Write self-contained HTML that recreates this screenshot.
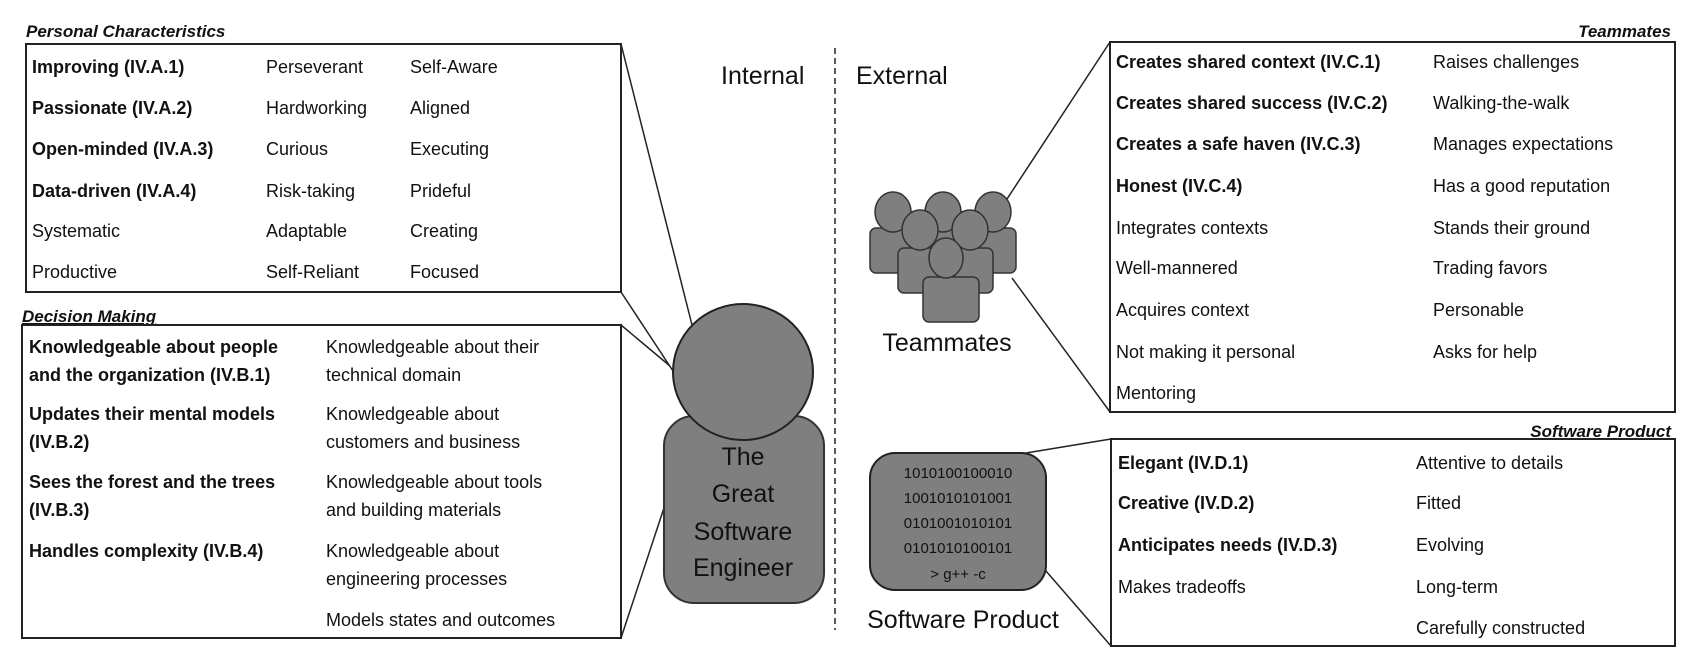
<!DOCTYPE html>
<html><head><meta charset="utf-8"><style>
html,body{margin:0;padding:0;background:#fff;}
svg{display:block;font-family:"Liberation Sans",sans-serif;}
.b{font-weight:bold;}
text{font-size:18px;fill:#111;}
</style></head><body>
<svg width="1688" height="658" viewBox="0 0 1688 658" xmlns="http://www.w3.org/2000/svg">
<!-- titles -->
<text x="26" y="37" font-style="italic" font-weight="bold" style="font-size:17px">Personal Characteristics</text>
<text x="22" y="322" font-style="italic" font-weight="bold" style="font-size:17px" text-decoration="underline">Decision Making</text>
<text x="1671" y="37" text-anchor="end" font-style="italic" font-weight="bold" style="font-size:17px">Teammates</text>
<text x="1671" y="437" text-anchor="end" font-style="italic" font-weight="bold" style="font-size:17px" text-decoration="underline">Software Product</text>

<!-- boxes -->
<rect x="26" y="44" width="595" height="248" fill="none" stroke="#222" stroke-width="2"/>
<rect x="22" y="325" width="599" height="313" fill="none" stroke="#222" stroke-width="2"/>
<rect x="1110" y="42" width="565" height="370" fill="none" stroke="#222" stroke-width="2"/>
<rect x="1111" y="439" width="564" height="207" fill="none" stroke="#222" stroke-width="2"/>

<!-- connectors -->
<g stroke="#222" stroke-width="1.5">
<line x1="621" y1="44" x2="692" y2="325"/>
<line x1="621" y1="292" x2="673" y2="371"/>
<line x1="621" y1="325" x2="670" y2="366"/>
<line x1="621" y1="638" x2="694" y2="417"/>
<line x1="1110" y1="42" x2="1005" y2="202"/>
<line x1="1012" y1="278" x2="1110" y2="412"/>
<line x1="1026" y1="453" x2="1111" y2="439"/>
<line x1="1046" y1="571" x2="1111" y2="646"/>
</g>
<line x1="835" y1="48" x2="835" y2="630" stroke="#222" stroke-width="1.5" stroke-dasharray="6,4"/>
<text x="721" y="84" style="font-size:25px">Internal</text>
<text x="856" y="84" style="font-size:25px">External</text>

<!-- personal characteristics -->
<g>
<text x="32" y="73" class="b">Improving (IV.A.1)</text><text x="266" y="73">Perseverant</text><text x="410" y="73">Self-Aware</text>
<text x="32" y="114" class="b">Passionate (IV.A.2)</text><text x="266" y="114">Hardworking</text><text x="410" y="114">Aligned</text>
<text x="32" y="155" class="b">Open-minded (IV.A.3)</text><text x="266" y="155">Curious</text><text x="410" y="155">Executing</text>
<text x="32" y="197" class="b">Data-driven (IV.A.4)</text><text x="266" y="197">Risk-taking</text><text x="410" y="197">Prideful</text>
<text x="32" y="237">Systematic</text><text x="266" y="237">Adaptable</text><text x="410" y="237">Creating</text>
<text x="32" y="278">Productive</text><text x="266" y="278">Self-Reliant</text><text x="410" y="278">Focused</text>
</g>

<!-- decision making -->
<g>
<text x="29" y="353" class="b">Knowledgeable about people</text><text x="326" y="353">Knowledgeable about their</text>
<text x="29" y="381" class="b">and the organization (IV.B.1)</text><text x="326" y="381">technical domain</text>
<text x="29" y="420" class="b">Updates their mental models</text><text x="326" y="420">Knowledgeable about</text>
<text x="29" y="448" class="b">(IV.B.2)</text><text x="326" y="448">customers and business</text>
<text x="29" y="488" class="b">Sees the forest and the trees</text><text x="326" y="488">Knowledgeable about tools</text>
<text x="29" y="516" class="b">(IV.B.3)</text><text x="326" y="516">and building materials</text>
<text x="29" y="557" class="b">Handles complexity (IV.B.4)</text><text x="326" y="557">Knowledgeable about</text>
<text x="326" y="585">engineering processes</text>
<text x="326" y="626">Models states and outcomes</text>
</g>

<!-- engineer figure -->
<rect x="664" y="416" width="160" height="187" rx="30" fill="#7f7f7f" stroke="#333" stroke-width="2"/>
<ellipse cx="743" cy="372" rx="70" ry="68" fill="#7f7f7f" stroke="#222" stroke-width="2"/>
<line x1="692" y1="325" x2="694" y2="417" stroke="none"/>
<g fill="#fff" text-anchor="middle" style="font-size:25px">
<text x="743" y="465" fill="#fff" style="font-size:25px">The</text>
<text x="743" y="502" fill="#fff" style="font-size:25px">Great</text>
<text x="743" y="540" fill="#fff" style="font-size:25px">Software</text>
<text x="743" y="576" fill="#fff" style="font-size:25px">Engineer</text>
</g>

<!-- teammates icon -->
<g fill="#7f7f7f" stroke="#333" stroke-width="1.5">
<rect x="870" y="228" width="45" height="45" rx="6"/>
<rect x="971" y="228" width="45" height="45" rx="6"/>
<rect x="920" y="228" width="46" height="45" rx="6"/>
<ellipse cx="893" cy="212" rx="18" ry="20"/>
<ellipse cx="943" cy="212" rx="18" ry="20"/>
<ellipse cx="993" cy="212" rx="18" ry="20"/>
<rect x="898" y="248" width="95" height="45" rx="6"/>
<ellipse cx="920" cy="230" rx="18" ry="20"/>
<ellipse cx="970" cy="230" rx="18" ry="20"/>
<rect x="923" y="277" width="56" height="45" rx="6"/>
<ellipse cx="946" cy="258" rx="17" ry="20"/>
</g>
<text x="947" y="351" text-anchor="middle" style="font-size:25px">Teammates</text>

<!-- teammates list -->
<g>
<text x="1116" y="68" class="b">Creates shared context (IV.C.1)</text><text x="1433" y="68">Raises challenges</text>
<text x="1116" y="109" class="b">Creates shared success (IV.C.2)</text><text x="1433" y="109">Walking-the-walk</text>
<text x="1116" y="150" class="b">Creates a safe haven (IV.C.3)</text><text x="1433" y="150">Manages expectations</text>
<text x="1116" y="192" class="b">Honest (IV.C.4)</text><text x="1433" y="192">Has a good reputation</text>
<text x="1116" y="234">Integrates contexts</text><text x="1433" y="234">Stands their ground</text>
<text x="1116" y="274">Well-mannered</text><text x="1433" y="274">Trading favors</text>
<text x="1116" y="316">Acquires context</text><text x="1433" y="316">Personable</text>
<text x="1116" y="358">Not making it personal</text><text x="1433" y="358">Asks for help</text>
<text x="1116" y="399">Mentoring</text>
</g>

<!-- software product icon -->
<rect x="870" y="453" width="176" height="137" rx="25" fill="#7f7f7f" stroke="#222" stroke-width="2"/>
<g text-anchor="middle" style="font-size:15px">
<text x="958" y="478" fill="#fff" style="font-size:15px">1010100100010</text>
<text x="958" y="503" fill="#fff" style="font-size:15px">1001010101001</text>
<text x="958" y="528" fill="#fff" style="font-size:15px">0101001010101</text>
<text x="958" y="553" fill="#fff" style="font-size:15px">0101010100101</text>
<text x="958" y="579" fill="#fff" style="font-size:15px">&gt; g++ -c</text>
</g>
<text x="963" y="628" text-anchor="middle" style="font-size:25px">Software Product</text>

<!-- software product list -->
<g>
<text x="1118" y="469" class="b">Elegant (IV.D.1)</text><text x="1416" y="469">Attentive to details</text>
<text x="1118" y="509" class="b">Creative (IV.D.2)</text><text x="1416" y="509">Fitted</text>
<text x="1118" y="551" class="b">Anticipates needs (IV.D.3)</text><text x="1416" y="551">Evolving</text>
<text x="1118" y="593">Makes tradeoffs</text><text x="1416" y="593">Long-term</text>
<text x="1416" y="634">Carefully constructed</text>
</g>
</svg>
</body></html>
